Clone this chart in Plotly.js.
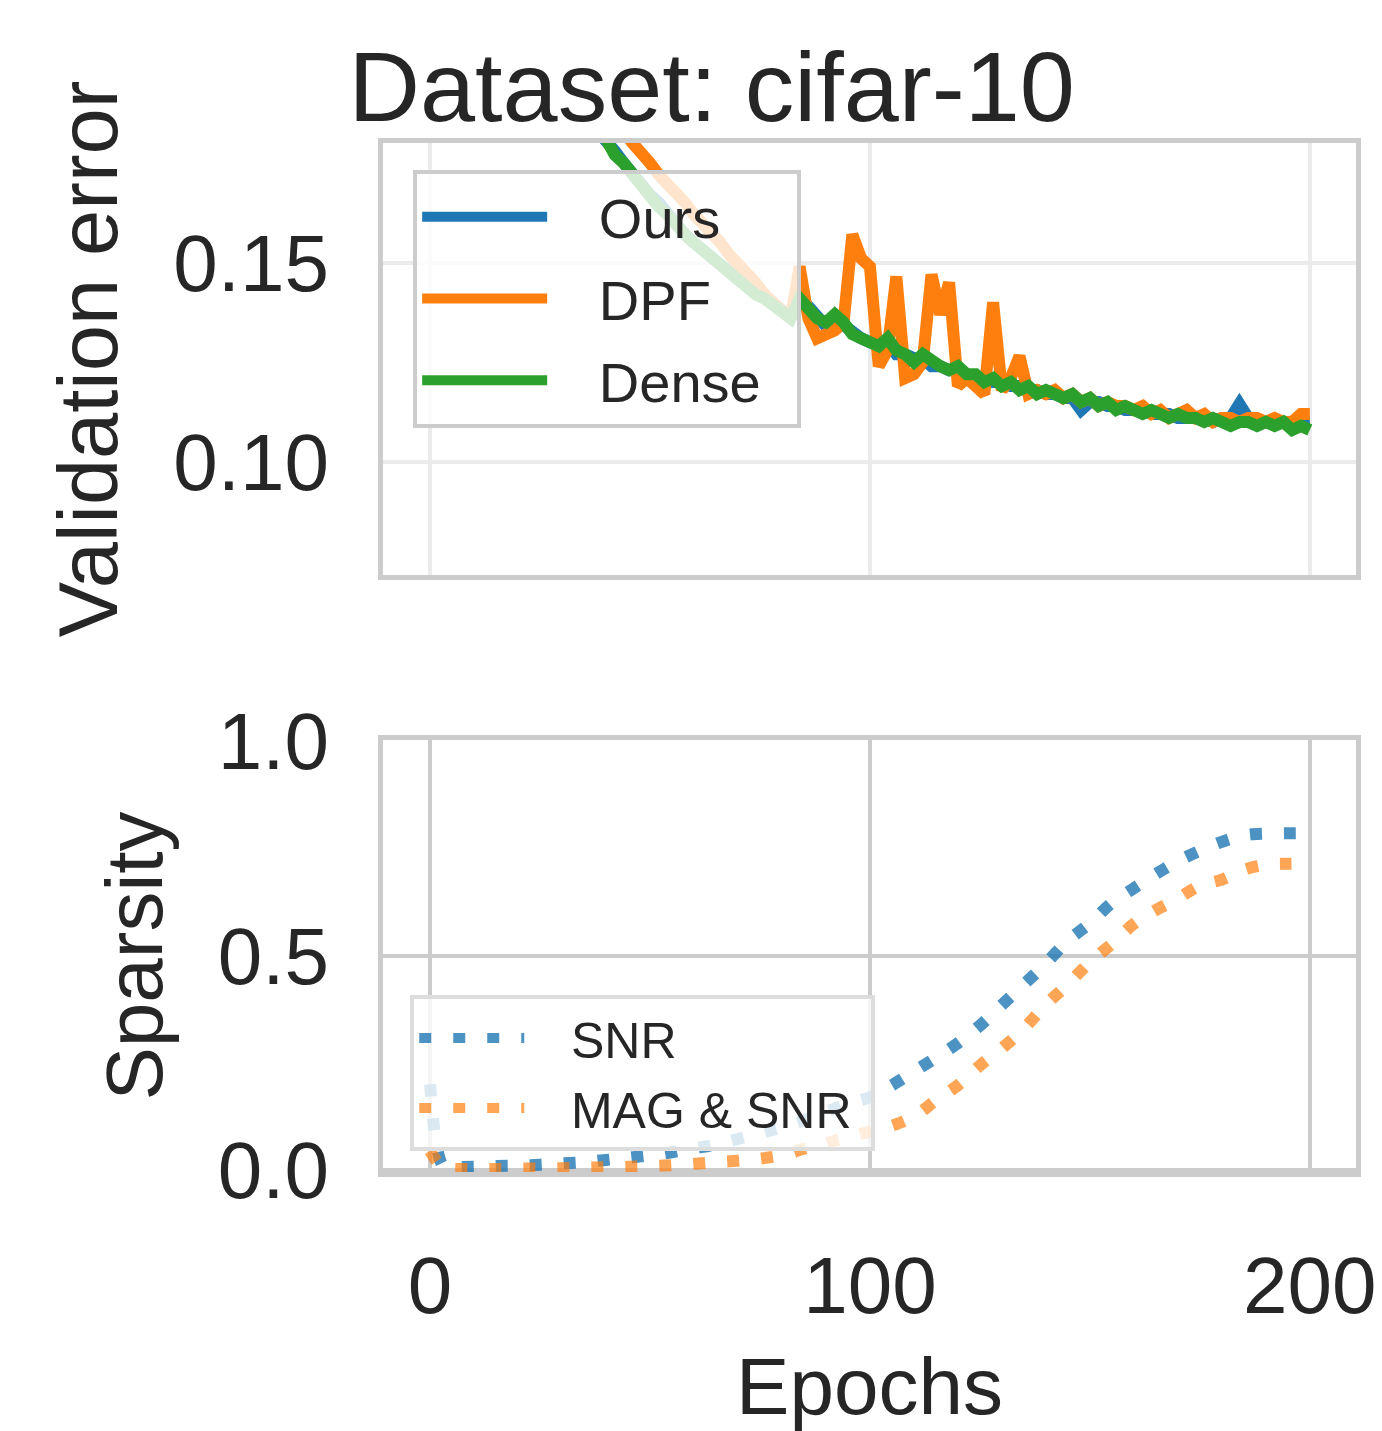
<!DOCTYPE html>
<html>
<head>
<meta charset="utf-8">
<script src="https://cdn.plot.ly/plotly-3.0.1.min.js"></script>
<style>html,body{margin:0;padding:0;background:#fff;}#chart{width:1382px;height:1431px;}</style>
</head>
<body>
<div id="chart"></div>
<script>
// ---- data ----
const epochs = [
  0,2,4,6,8,10,12,14,16,18,
  20,22,24,26,28,30,32,34,36,38,
  40,42,44,46,48,50,52,54,56,58,
  60,62,64,66,68,70,72,74,76,78,
  80,82,84,86,88,90,92,94,96,98,
  100,102,104,106,108,110,112,114,116,118,
  120,122,124,126,128,130,132,134,136,138,
  140,142,144,146,148,150,152,154,156,158,
  160,162,164,166,168,170,172,174,176,178,
  180,182,184,186,188,190,192,194,196,198,
  200];

const oursError = [
  0.620,0.460,0.385,0.342,0.312,0.291,0.274,0.259,0.247,0.237,
  0.228,0.220,0.213,0.206,0.201,0.196,0.192,0.188,0.186,0.183,
  0.181,0.178,0.175,0.172,0.170,0.167,0.165,0.162,0.160,0.157,
  0.155,0.153,0.151,0.149,0.148,0.146,0.144,0.143,0.141,0.139,
  0.138,0.137,0.140,0.139,0.136,0.134,0.136,0.134,0.133,0.131,
  0.130,0.130,0.130,0.127,0.127,0.126,0.126,0.124,0.124,0.123,
  0.123,0.122,0.121,0.121,0.120,0.120,0.119,0.119,0.118,0.118,
  0.117,0.117,0.116,0.116,0.113,0.115,0.115,0.114,0.114,0.113,
  0.113,0.113,0.112,0.112,0.112,0.111,0.111,0.111,0.111,0.110,
  0.111,0.111,0.1145,0.111,0.110,0.110,0.110,0.110,0.110,0.110,
  0.110];

const dpfError = [
  0.650,0.500,0.420,0.370,0.337,0.313,0.294,0.278,0.265,0.254,
  0.244,0.235,0.228,0.221,0.215,0.210,0.205,0.201,0.197,0.193,
  0.190,0.186,0.183,0.180,0.178,0.175,0.172,0.170,0.167,0.165,
  0.162,0.160,0.157,0.155,0.152,0.150,0.147,0.145,0.142,0.140,
  0.137,0.136,0.149,0.136,0.131,0.132,0.133,0.135,0.157,0.151,
  0.149,0.124,0.128,0.1465,0.121,0.122,0.125,0.147,0.137,0.145,
  0.119,0.121,0.119,0.117,0.140,0.118,0.121,0.1265,0.117,0.118,
  0.117,0.118,0.116,0.117,0.115,0.116,0.114,0.115,0.114,0.114,
  0.113,0.114,0.112,0.113,0.111,0.112,0.113,0.111,0.112,0.110,
  0.111,0.111,0.110,0.111,0.111,0.110,0.111,0.110,0.110,0.112,
  0.112];

const denseError = [
  0.600,0.450,0.380,0.340,0.310,0.290,0.272,0.258,0.246,0.236,
  0.227,0.219,0.212,0.206,0.200,0.195,0.191,0.188,0.185,0.183,
  0.181,0.177,0.175,0.172,0.169,0.167,0.164,0.162,0.159,0.157,
  0.155,0.153,0.151,0.149,0.147,0.146,0.144,0.142,0.141,0.139,
  0.137,0.136,0.141,0.138,0.136,0.135,0.137,0.135,0.132,0.131,
  0.130,0.129,0.131,0.128,0.127,0.125,0.127,0.125,0.124,0.123,
  0.124,0.122,0.122,0.120,0.121,0.119,0.120,0.118,0.119,0.117,
  0.118,0.117,0.116,0.117,0.115,0.116,0.114,0.115,0.113,0.114,
  0.113,0.112,0.113,0.112,0.111,0.112,0.111,0.111,0.110,0.111,
  0.110,0.109,0.110,0.110,0.109,0.110,0.109,0.110,0.108,0.109,
  0.108];

const sparsityEpochs = [0,3,5,10,15,20,25,30,35,40,45,50,55,60,65,70,75,80,85,90,95,100,
  105,110,115,120,125,130,135,140,145,150,155,160,165,170,175,180,185,190,195,200];

const snrSparsity = [0.200,0.010,0.008,0.008,0.010,0.011,0.013,0.016,0.019,0.024,0.029,0.035,0.042,0.051,0.060,0.073,0.086,0.100,0.116,0.136,0.155,0.170,
  0.198,0.230,0.262,0.296,0.337,0.385,0.433,0.482,0.535,0.575,0.623,0.657,0.690,0.720,0.744,0.765,0.780,0.784,0.785,0.785];

const magSnrSparsity = [0.045,0.005,0.003,0.003,0.003,0.004,0.004,0.005,0.006,0.007,0.008,0.010,0.012,0.015,0.019,0.022,0.027,0.035,0.050,0.063,0.077,0.090,
  0.104,0.125,0.163,0.198,0.244,0.284,0.330,0.386,0.433,0.485,0.527,0.574,0.606,0.633,0.663,0.677,0.700,0.712,0.714,0.714];

const errorNames = ['Ours', 'DPF', 'Dense'];
const sparsityNames = ['SNR', 'MAG & SNR'];
const xTickVals = [0, 100, 200];
const xTickText = ['0', '100', '200'];

// ---- styling ----
const FONT = 'Liberation Sans, Arial, Helvetica, sans-serif';
const TXT = '#262626';
const BLUE = '#1f77b4', ORANGE = '#ff7f0e', GREEN = '#2ca02c';
const NB = '\u00a0';
const pad = (s, l, r) => NB.repeat(l) + s + NB.repeat(r);

const traces = [
  {x: epochs, y: oursError, name: pad(errorNames[0], 3, 0), mode: 'lines', xaxis: 'x', yaxis: 'y',
   line: {color: BLUE, width: 12}, legend: 'legend', legendgroup: 'a'},
  {x: epochs, y: dpfError, name: pad(errorNames[1], 3, 0), mode: 'lines', xaxis: 'x', yaxis: 'y',
   line: {color: ORANGE, width: 12}, legend: 'legend', legendgroup: 'b'},
  {x: epochs, y: denseError, name: pad(errorNames[2], 3, 2), mode: 'lines', xaxis: 'x', yaxis: 'y',
   line: {color: GREEN, width: 12}, legend: 'legend', legendgroup: 'c'},
  {x: sparsityEpochs, y: snrSparsity, name: pad(sparsityNames[0], 3, 0), mode: 'lines', xaxis: 'x2', yaxis: 'y2',
   line: {color: 'rgba(31,119,180,0.8)', width: 12, dash: '12px,22px', shape: 'spline'},
   legend: 'legend2', legendgroup: 'd'},
  {x: sparsityEpochs, y: magSnrSparsity, name: pad(sparsityNames[1], 3, 1), mode: 'lines', xaxis: 'x2', yaxis: 'y2',
   line: {color: 'rgba(255,127,14,0.7)', width: 12, dash: '12px,22px', shape: 'spline'},
   legend: 'legend2', legendgroup: 'e'}
];

const xRange = [-10.7, 210.5];
const frame = {showline: true, mirror: true, linecolor: '#cccccc', linewidth: 5, zeroline: false, ticks: ''};

const layout = {
  width: 1382, height: 1431,
  paper_bgcolor: '#ffffff', plot_bgcolor: '#ffffff',
  margin: {l: 383, r: 26, t: 143, b: 259, pad: 0},
  font: {family: FONT, color: TXT},
  showlegend: true,
  title: {text: 'Dataset: cifar-10', font: {size: 99, color: TXT, family: FONT},
          xref: 'container', x: 0.515, xanchor: 'center', yref: 'container', y: 0.94, yanchor: 'middle'},
  xaxis: Object.assign({}, frame, {domain: [0, 1], range: xRange, anchor: 'y',
    tickvals: xTickVals, showticklabels: false, showgrid: true, gridcolor: '#ebebeb', gridwidth: 4}),
  yaxis: Object.assign({}, frame, {domain: [0.5802, 1], range: [0.0716, 0.180], anchor: 'x',
    tickvals: [0.10, 0.15], ticktext: ['0.10', '0.15'], showgrid: true, gridcolor: '#ebebeb', gridwidth: 4,
    tickfont: {size: 80, color: TXT, family: FONT}, ticklabelstandoff: 33,
    title: {text: 'Validation error', font: {size: 83, color: TXT, family: FONT}, standoff: 30}}),
  xaxis2: Object.assign({}, frame, {domain: [0, 1], range: xRange, anchor: 'y2',
    tickvals: xTickVals, ticktext: xTickText, showgrid: true, gridcolor: '#cccccc', gridwidth: 4,
    tickfont: {size: 80, color: TXT, family: FONT}, ticklabelstandoff: 40,
    title: {text: 'Epochs', font: {size: 80, color: TXT, family: FONT}, standoff: 74}}),
  yaxis2: Object.assign({}, frame, {domain: [0, 0.4198], range: [-0.004, 1.002], anchor: 'x2',
    tickvals: [0, 0.5, 1.0], ticktext: ['0.0', '0.5', '1.0'], showgrid: true, gridcolor: '#cccccc', gridwidth: 4,
    tickfont: {size: 80, color: TXT, family: FONT}, ticklabelstandoff: 33,
    title: {text: 'Sparsity', font: {size: 80, color: TXT, family: FONT}, standoff: 30}}),
  legend: {x: 0.031, y: 0.974, xanchor: 'left', yanchor: 'top', xref: 'paper', yref: 'paper',
    bgcolor: 'rgba(255,255,255,0.8)', bordercolor: '#cccccc', borderwidth: 4,
    font: {size: 56, color: TXT, family: FONT}, itemwidth: 125, tracegroupgap: 6, traceorder: 'grouped'},
  legend2: {x: 0.028, y: 0.172, xanchor: 'left', yanchor: 'top', xref: 'paper', yref: 'paper',
    bgcolor: 'rgba(255,255,255,0.8)', bordercolor: '#dddddd', borderwidth: 4,
    font: {size: 50, color: TXT, family: FONT}, itemwidth: 105, tracegroupgap: 2, traceorder: 'grouped'}
};

Plotly.newPlot('chart', traces, layout, {displayModeBar: false, staticPlot: true});
</script>
</body>
</html>
